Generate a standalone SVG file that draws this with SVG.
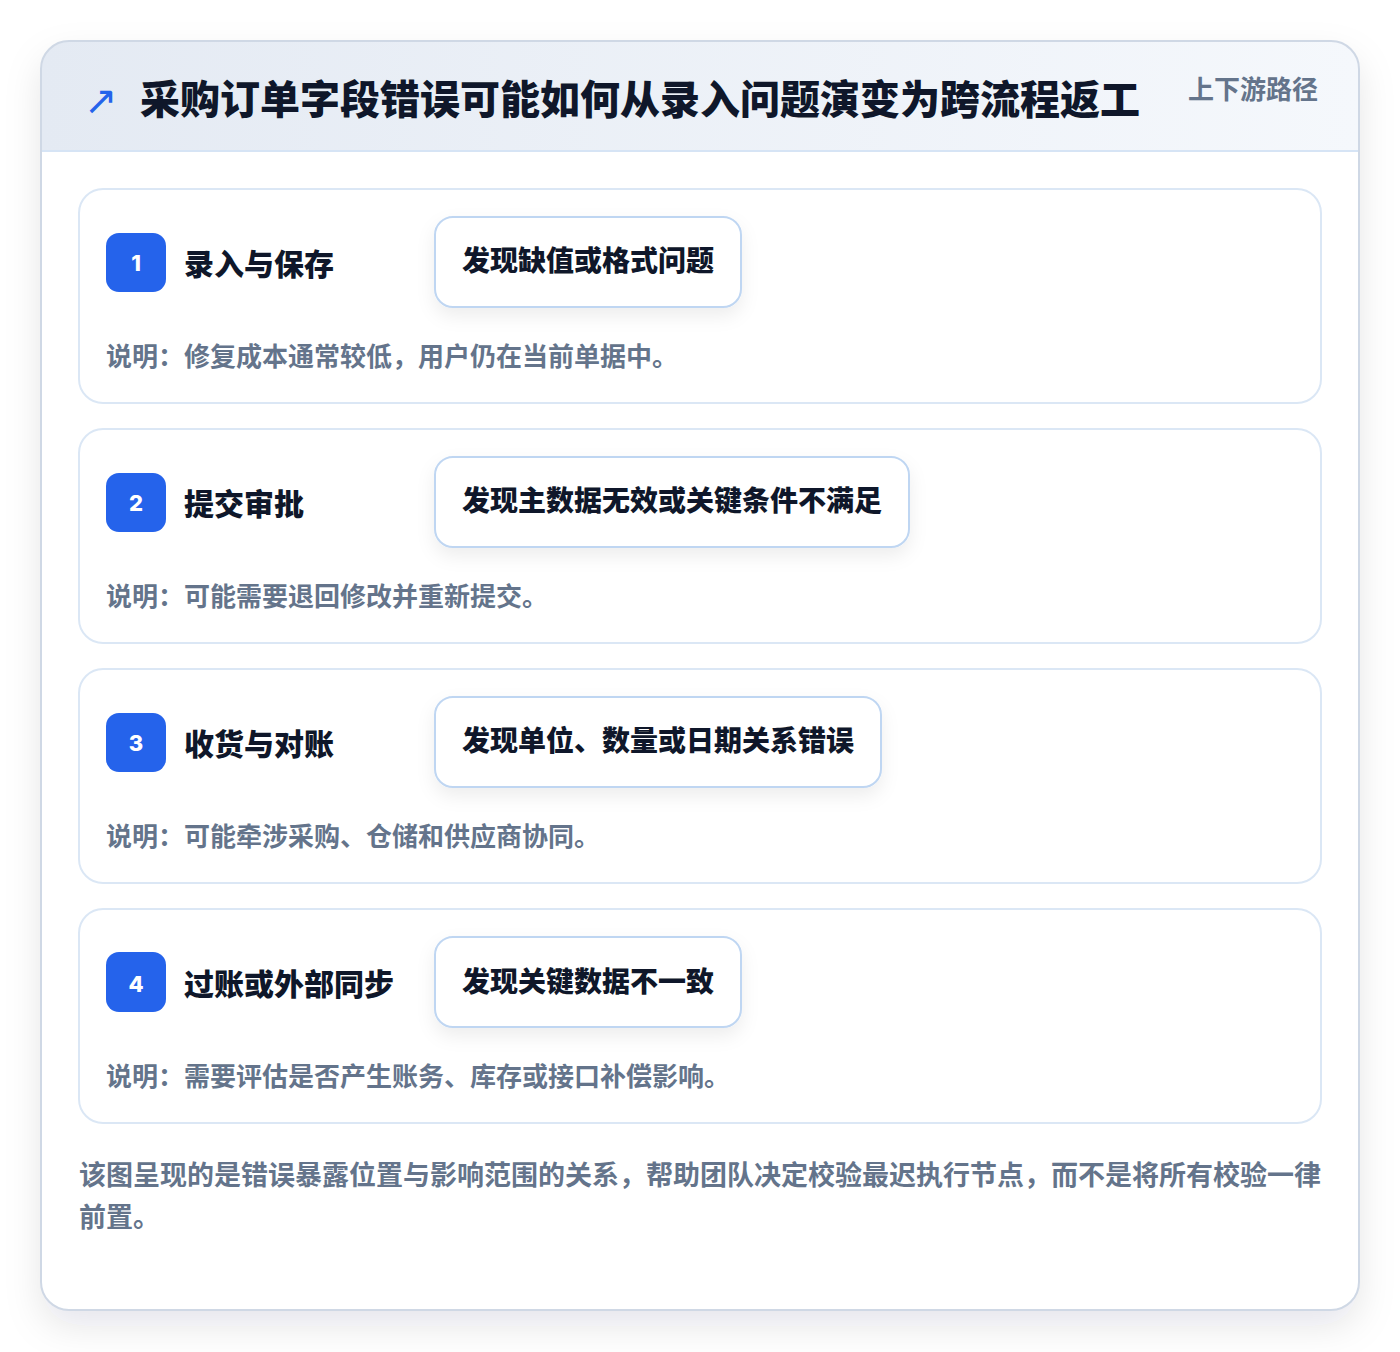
<svg xmlns="http://www.w3.org/2000/svg" width="1400" height="1352" viewBox="0 0 1400 1352">
<defs>
<linearGradient id="hdr" x1="0" y1="0" x2="1" y2="0">
<stop offset="0" stop-color="#e4eaf3"/>
<stop offset="1" stop-color="#f5f8fc"/>
</linearGradient>
<filter id="cardShadow" x="-10%" y="-10%" width="120%" height="120%">
<feDropShadow dx="0" dy="16" stdDeviation="18" flood-color="#0f172a" flood-opacity="0.10"/>
</filter>
<filter id="pillShadow" x="-20%" y="-40%" width="140%" height="190%">
<feDropShadow dx="0" dy="8" stdDeviation="9" flood-color="#0f172a" flood-opacity="0.07"/>
</filter>
<clipPath id="cardClip"><rect x="41" y="41" width="1318" height="1269" rx="28"/></clipPath>
<style>
text{font-family:"Noto Sans CJK SC","Noto Sans",sans-serif;font-weight:700}
.title{font-size:40px;fill:#0f172a;font-weight:900}
.tag{font-size:26px;fill:#64748b}
.step{fill:#ffffff;stroke:#dbe7f5;stroke-width:2}
.badge{fill:#2563eb}
.num{font-size:22px;fill:#ffffff;font-family:"Inter","Noto Sans",sans-serif;font-weight:800}
.stitle{font-size:30px;fill:#0f172a;font-weight:900}
.pill{fill:#ffffff;stroke:#bfd6f2;stroke-width:2}
.ptext{font-size:28px;fill:#0f172a;font-weight:900}
.desc{font-size:26px;fill:#64748b}
.foot{font-size:27px;fill:#64748b}
</style>
</defs>
<rect width="1400" height="1352" fill="#ffffff"/>
<g id="card">
<rect x="41" y="41" width="1318" height="1269" rx="28" fill="#ffffff" filter="url(#cardShadow)"/>
<rect x="41" y="41" width="1318" height="110" fill="url(#hdr)" clip-path="url(#cardClip)"/>
<line x1="41" y1="151" x2="1359" y2="151" stroke="#d6e4f5" stroke-width="2"/>
<rect x="41" y="41" width="1318" height="1269" rx="28" fill="none" stroke="#cfd8e5" stroke-width="2"/>
</g>
<g id="header">
<text x="84" y="114" font-size="40" fill="#2563eb" style="font-family:'DejaVu Sans',sans-serif;font-weight:400">↗</text>
<text class="title" x="140" y="114">采购订单字段错误可能如何从录入问题演变为跨流程返工</text>
<text class="tag" x="1188" y="99">上下游路径</text>
</g>
<g id="connectors"></g>
<g id="step1">
<rect class="step" x="79" y="189" width="1242" height="214" rx="24"/>
<rect class="badge" x="106" y="233" width="60" height="59" rx="13"/>
<text class="num" x="136" y="271" text-anchor="middle">1</text>
<text class="stitle" x="184" y="275">录入与保存</text>
<rect class="pill" x="435" y="217" width="306" height="90" rx="18" filter="url(#pillShadow)"/>
<text class="ptext" x="462" y="271">发现缺值或格式问题</text>
<text class="desc" x="106" y="366">说明：修复成本通常较低，用户仍在当前单据中。</text>
</g>
<g id="step2">
<rect class="step" x="79" y="429" width="1242" height="214" rx="24"/>
<rect class="badge" x="106" y="473" width="60" height="59" rx="13"/>
<text class="num" x="136" y="511" text-anchor="middle">2</text>
<text class="stitle" x="184" y="515">提交审批</text>
<rect class="pill" x="435" y="457" width="474" height="90" rx="18" filter="url(#pillShadow)"/>
<text class="ptext" x="462" y="511">发现主数据无效或关键条件不满足</text>
<text class="desc" x="106" y="606">说明：可能需要退回修改并重新提交。</text>
</g>
<g id="step3">
<rect class="step" x="79" y="669" width="1242" height="214" rx="24"/>
<rect class="badge" x="106" y="713" width="60" height="59" rx="13"/>
<text class="num" x="136" y="751" text-anchor="middle">3</text>
<text class="stitle" x="184" y="755">收货与对账</text>
<rect class="pill" x="435" y="697" width="446" height="90" rx="18" filter="url(#pillShadow)"/>
<text class="ptext" x="462" y="751">发现单位、数量或日期关系错误</text>
<text class="desc" x="106" y="846">说明：可能牵涉采购、仓储和供应商协同。</text>
</g>
<g id="step4">
<rect class="step" x="79" y="909" width="1242" height="214" rx="24"/>
<rect class="badge" x="106" y="952" width="60" height="60" rx="13"/>
<text class="num" x="136" y="992" text-anchor="middle">4</text>
<text class="stitle" x="184" y="995">过账或外部同步</text>
<rect class="pill" x="435" y="937" width="306" height="90" rx="18" filter="url(#pillShadow)"/>
<text class="ptext" x="462" y="992">发现关键数据不一致</text>
<text class="desc" x="106" y="1086">说明：需要评估是否产生账务、库存或接口补偿影响。</text>
</g>
<g id="footer">
<text class="foot" x="79" y="1185">该图呈现的是错误暴露位置与影响范围的关系，帮助团队决定校验最迟执行节点，而不是将所有校验一律</text>
<text class="foot" x="79" y="1227">前置。</text>
</g>
</svg>
